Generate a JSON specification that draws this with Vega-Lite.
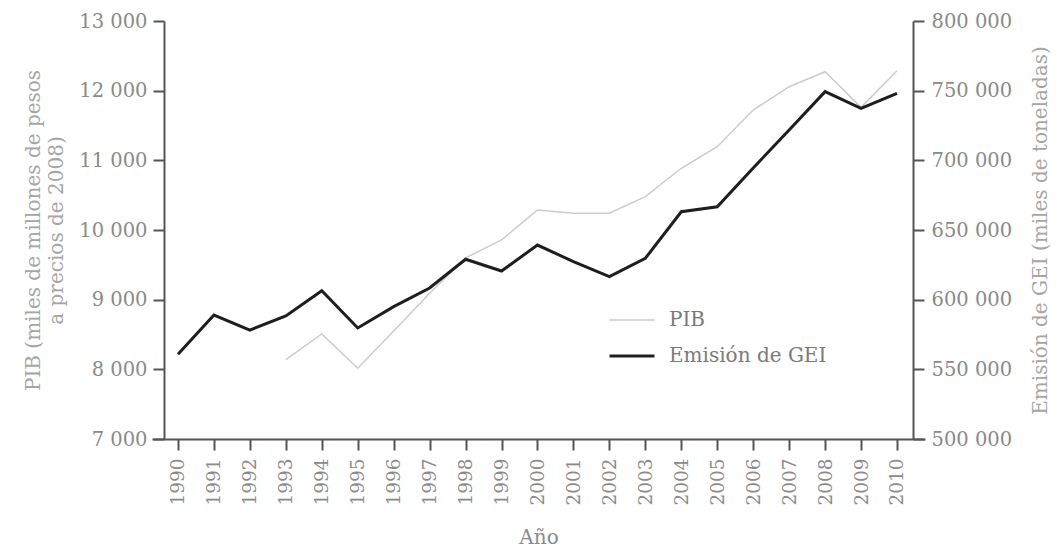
{
  "$schema": "https://vega.github.io/schema/vega-lite/v6.json",
  "width": 773,
  "height": 418,
  "autosize": {"type": "none"},
  "padding": {"left": 152, "top": 21, "right": 136, "bottom": 114},
  "background": "white",
  "config": {"view": {"stroke": null}, "font": "DejaVu Serif"},
  "data": {
    "values": [
      {"year": 1993, "series": "PIB", "value": 8140},
      {"year": 1994, "series": "PIB", "value": 8507},
      {"year": 1995, "series": "PIB", "value": 8015},
      {"year": 1996, "series": "PIB", "value": 8550},
      {"year": 1997, "series": "PIB", "value": 9091},
      {"year": 1998, "series": "PIB", "value": 9600},
      {"year": 1999, "series": "PIB", "value": 9857},
      {"year": 2000, "series": "PIB", "value": 10287},
      {"year": 2001, "series": "PIB", "value": 10240},
      {"year": 2002, "series": "PIB", "value": 10240},
      {"year": 2003, "series": "PIB", "value": 10478},
      {"year": 2004, "series": "PIB", "value": 10886},
      {"year": 2005, "series": "PIB", "value": 11196},
      {"year": 2006, "series": "PIB", "value": 11722},
      {"year": 2007, "series": "PIB", "value": 12057},
      {"year": 2008, "series": "PIB", "value": 12272},
      {"year": 2009, "series": "PIB", "value": 11760},
      {"year": 2010, "series": "PIB", "value": 12287},
      {"year": 1990, "series": "Emisión de GEI", "value": 560800},
      {"year": 1991, "series": "Emisión de GEI", "value": 589000},
      {"year": 1992, "series": "Emisión de GEI", "value": 578200},
      {"year": 1993, "series": "Emisión de GEI", "value": 588300},
      {"year": 1994, "series": "Emisión de GEI", "value": 606400},
      {"year": 1995, "series": "Emisión de GEI", "value": 579700},
      {"year": 1996, "series": "Emisión de GEI", "value": 595000},
      {"year": 1997, "series": "Emisión de GEI", "value": 608400},
      {"year": 1998, "series": "Emisión de GEI", "value": 629000},
      {"year": 1999, "series": "Emisión de GEI", "value": 620600},
      {"year": 2000, "series": "Emisión de GEI", "value": 639200},
      {"year": 2001, "series": "Emisión de GEI", "value": 627300},
      {"year": 2002, "series": "Emisión de GEI", "value": 616500},
      {"year": 2003, "series": "Emisión de GEI", "value": 629700},
      {"year": 2004, "series": "Emisión de GEI", "value": 663100},
      {"year": 2005, "series": "Emisión de GEI", "value": 666700},
      {"year": 2006, "series": "Emisión de GEI", "value": 694500},
      {"year": 2007, "series": "Emisión de GEI", "value": 721800},
      {"year": 2008, "series": "Emisión de GEI", "value": 749300},
      {"year": 2009, "series": "Emisión de GEI", "value": 737300},
      {"year": 2010, "series": "Emisión de GEI", "value": 748100}
    ]
  },
  "encoding": {
    "x": {
      "field": "year",
      "type": "quantitative",
      "scale": {"domain": [1989.277, 2010.779], "nice": false, "zero": false},
      "axis": {
        "values": [1990, 1991, 1992, 1993, 1994, 1995, 1996, 1997, 1998, 1999, 2000, 2001, 2002, 2003, 2004, 2005, 2006, 2007, 2008, 2009, 2010],
        "format": "d",
        "grid": false,
        "labelAngle": -90,
        "labelPadding": 8,
        "labelFont": "DejaVu Serif",
        "labelFontSize": 18.5,
        "labelColor": "#8a8a8a",
        "domainColor": "#555555",
        "domainWidth": 2,
        "tickColor": "#555555",
        "tickWidth": 2,
        "tickSize": 11,
        "title": "Año",
        "titleFont": "DejaVu Serif",
        "titleFontSize": 20,
        "titleFontWeight": "normal",
        "titleColor": "#8a8a8a",
        "titleY": 98,
        "titleBaseline": "middle"
      }
    },
    "color": {
      "field": "series",
      "type": "nominal",
      "scale": {"domain": ["PIB", "Emisión de GEI"], "range": ["#cccccc", "#1e1e1e"]},
      "legend": {
        "orient": "none",
        "legendX": 470,
        "legendY": 289,
        "title": null,
        "padding": 0,
        "labelFont": "DejaVu Serif",
        "labelFontSize": 20,
        "labelColor": "#7a7a7a",
        "symbolType": "M-2,0H2",
        "symbolSize": 506,
        "labelOffset": 27,
        "rowPadding": 16,
        "encode": {
          "symbols": {"update": {"strokeWidth": {"signal": "datum.value === 'PIB' ? 1.5 : 3"}}}
        }
      }
    }
  },
  "layer": [
    {
      "transform": [{"filter": "datum.series === 'PIB'"}],
      "mark": {"type": "line", "strokeWidth": 1.5},
      "encoding": {
        "y": {
          "field": "value",
          "type": "quantitative",
          "scale": {"domain": [7000, 13000], "nice": false, "zero": false},
          "axis": {
            "orient": "left",
            "offset": -12,
            "values": [7000, 8000, 9000, 10000, 11000, 12000, 13000],
            "labelExpr": "replace(format(datum.value, ','), ',', ' ')",
            "grid": false,
            "domainColor": "#555555",
            "domainWidth": 2,
            "tickColor": "#555555",
            "tickWidth": 2,
            "tickSize": 11,
            "labelFont": "DejaVu Serif",
            "labelFontSize": 19.5,
            "labelColor": "#8a8a8a",
            "labelPadding": 6,
            "title": ["PIB (miles de millones de pesos", "a precios de 2008)"],
            "titleFont": "DejaVu Serif",
            "titleFontSize": 20,
            "titleFontWeight": "normal",
            "titleColor": "#a5a5a5",
            "titleAngle": -90,
            "titleX": -130.5,
            "titleY": 209,
            "titleAlign": "center",
            "titleBaseline": "middle",
            "titleLineHeight": 23
          }
        }
      }
    },
    {
      "transform": [{"filter": "datum.series === 'Emisión de GEI'"}],
      "mark": {"type": "line", "strokeWidth": 3},
      "encoding": {
        "y": {
          "field": "value",
          "type": "quantitative",
          "scale": {"domain": [500000, 800000], "nice": false, "zero": false},
          "axis": {
            "orient": "right",
            "offset": -12,
            "values": [500000, 550000, 600000, 650000, 700000, 750000, 800000],
            "labelExpr": "replace(format(datum.value, ','), ',', ' ')",
            "grid": false,
            "domainColor": "#555555",
            "domainWidth": 2,
            "tickColor": "#555555",
            "tickWidth": 2,
            "tickSize": 11,
            "labelFont": "DejaVu Serif",
            "labelFontSize": 19.5,
            "labelColor": "#8a8a8a",
            "labelPadding": 7,
            "title": "Emisión de GEI (miles de toneladas)",
            "titleFont": "DejaVu Serif",
            "titleFontSize": 20,
            "titleFontWeight": "normal",
            "titleColor": "#a5a5a5",
            "titleAngle": -90,
            "titleX": 127,
            "titleY": 209,
            "titleAlign": "center",
            "titleBaseline": "middle"
          }
        }
      }
    }
  ],
  "resolve": {"scale": {"y": "independent"}}
}
